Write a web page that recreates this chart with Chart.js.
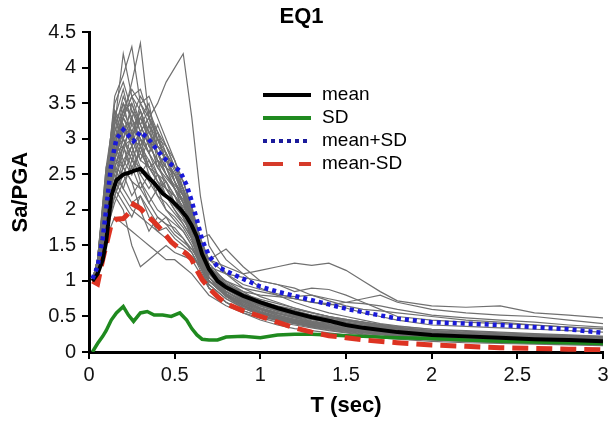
<!DOCTYPE html>
<html>
<head>
<meta charset="utf-8">
<script src="https://cdn.jsdelivr.net/npm/chart.js@4/dist/chart.umd.min.js"></script>
<style>
  html, body { margin: 0; padding: 0; background: #fff; }
  #wrap { width: 613px; height: 427px; }
</style>
</head>
<body>
<div id="wrap"><canvas id="eq1"></canvas></div>
<script>
// periods (sec) for the individual records
const periods = [0.02, 0.05, 0.1, 0.15, 0.2, 0.25, 0.3, 0.35, 0.4, 0.45, 0.5, 0.55, 0.6, 0.65, 0.7,
  0.8, 0.9, 1.0, 1.1, 1.2, 1.3, 1.4, 1.5, 1.6, 1.7, 1.8, 2.0, 2.2, 2.4, 2.6, 2.8, 3.0];

// individual normalised spectra (Sa/PGA)
const records = [
  [1.0,1.2,2.1,3.2,4.2,3.6,3.4,3.0,2.8,2.6,2.3,2.0,1.6,1.2,0.95,0.75,0.62,0.55,0.5,0.45,0.4,0.36,0.32,0.3,0.27,0.25,0.22,0.2,0.18,0.17,0.16,0.15],
  [1.0,1.3,2.4,3.6,3.9,4.3,3.5,3.2,2.9,2.7,2.5,2.2,1.8,1.3,1.0,0.8,0.7,0.6,0.52,0.46,0.42,0.38,0.34,0.31,0.28,0.26,0.23,0.21,0.19,0.18,0.17,0.16],
  [1.0,1.1,1.9,2.7,3.3,3.8,4.35,3.3,3.1,2.9,2.6,2.3,1.9,1.4,1.1,0.85,0.72,0.62,0.55,0.5,0.46,0.42,0.38,0.35,0.32,0.3,0.27,0.24,0.22,0.2,0.19,0.18],
  [1.0,1.1,1.6,2.2,2.6,2.9,3.1,3.3,3.5,3.8,4.0,4.2,3.3,2.2,1.5,1.1,0.9,0.78,0.7,0.62,0.55,0.5,0.45,0.4,0.37,0.34,0.3,0.27,0.25,0.23,0.22,0.2],
  [1.0,1.2,2.0,2.8,3.1,3.0,2.9,3.2,3.0,2.7,2.5,2.3,2.0,1.6,1.3,1.2,1.1,1.15,1.2,1.25,1.22,1.25,1.15,1.0,0.85,0.72,0.65,0.63,0.65,0.55,0.52,0.48],
  [1.0,1.2,2.3,3.0,3.5,3.3,3.6,3.4,3.1,2.8,2.4,2.1,1.7,1.45,1.3,1.45,1.2,1.0,0.95,0.85,0.9,0.88,0.8,0.7,0.6,0.5,0.45,0.42,0.4,0.38,0.35,0.33],
  [1.0,1.1,1.6,1.9,1.8,1.7,1.6,1.5,1.4,1.3,1.3,1.2,1.1,0.95,0.8,0.65,0.55,0.48,0.42,0.38,0.34,0.3,0.27,0.24,0.22,0.2,0.17,0.15,0.13,0.12,0.11,0.1],
  [1.0,1.2,1.8,2.2,2.0,1.5,1.2,1.3,1.4,1.5,1.4,1.35,1.3,1.1,0.9,0.7,0.55,0.45,0.38,0.33,0.3,0.27,0.24,0.22,0.2,0.18,0.15,0.13,0.12,0.11,0.1,0.09],
  [1.0,1.3,2.5,3.3,3.7,3.2,3.3,3.0,2.6,2.4,2.2,2.0,1.7,1.3,1.0,0.8,0.68,0.58,0.5,0.44,0.4,0.36,0.32,0.29,0.27,0.25,0.21,0.19,0.17,0.16,0.15,0.14],
  [1.0,1.2,2.2,2.6,2.5,2.8,2.4,2.2,2.0,1.9,1.8,1.7,1.5,1.2,0.95,0.75,0.62,0.52,0.45,0.4,0.35,0.31,0.28,0.25,0.22,0.2,0.17,0.15,0.14,0.13,0.12,0.11],
  [1.0,1.1,2.0,2.9,3.4,3.7,3.5,3.6,3.3,3.0,2.7,2.3,1.8,1.4,1.1,0.9,0.8,0.72,0.65,0.6,0.55,0.5,0.46,0.42,0.38,0.35,0.3,0.28,0.26,0.24,0.22,0.2],
  [1.0,1.2,2.3,2.8,3.0,2.7,2.6,2.5,2.3,2.2,2.0,1.8,1.6,1.3,1.1,1.0,0.9,0.85,0.8,0.78,0.8,0.75,0.7,0.68,0.65,0.6,0.52,0.48,0.45,0.42,0.38,0.35],
  [1.0,1.3,2.6,3.4,3.0,3.3,2.9,2.7,2.5,2.3,2.1,1.9,1.6,1.25,1.0,0.82,0.7,0.6,0.52,0.45,0.4,0.36,0.33,0.3,0.28,0.26,0.23,0.21,0.2,0.19,0.18,0.17],
  [1.0,1.1,1.7,2.4,2.9,3.2,3.0,2.8,2.6,2.45,2.3,2.1,1.9,1.5,1.2,1.0,0.85,0.7,0.6,0.55,0.5,0.45,0.4,0.36,0.33,0.3,0.26,0.24,0.22,0.21,0.2,0.19],
  [1.0,1.2,2.0,2.5,2.3,2.1,2.2,1.9,1.7,1.6,1.5,1.45,1.35,1.2,1.0,0.8,0.65,0.55,0.48,0.42,0.37,0.33,0.3,0.27,0.25,0.23,0.2,0.18,0.16,0.15,0.14,0.13],
  [1.0,1.2,2.4,3.1,3.4,3.5,3.2,2.9,2.7,2.5,2.3,2.0,1.6,1.2,0.9,0.7,0.58,0.5,0.44,0.4,0.36,0.33,0.3,0.28,0.26,0.24,0.22,0.2,0.19,0.18,0.17,0.16],
  [1.0,1.1,1.9,2.6,3.0,2.8,3.1,2.8,2.5,2.4,2.2,2.0,1.7,1.4,1.2,1.1,1.05,1.0,0.95,0.9,0.8,0.72,0.65,0.6,0.58,0.55,0.5,0.45,0.42,0.38,0.35,0.32],
  [1.0,1.2,2.1,2.9,3.3,3.6,3.7,3.3,2.8,2.5,2.3,2.1,1.8,1.4,1.05,0.8,0.65,0.55,0.48,0.43,0.39,0.35,0.32,0.3,0.28,0.26,0.23,0.21,0.2,0.19,0.18,0.17],
  [1.0,1.3,2.4,2.7,2.6,2.4,2.3,2.1,1.9,1.8,1.75,1.6,1.4,1.15,0.9,0.7,0.58,0.5,0.45,0.42,0.4,0.42,0.45,0.42,0.38,0.34,0.28,0.24,0.22,0.2,0.18,0.17],
  [1.0,1.2,2.2,3.0,3.3,3.1,3.4,3.1,2.9,2.7,2.5,2.3,2.0,1.6,1.3,1.1,0.95,0.88,0.82,0.75,0.7,0.66,0.7,0.75,0.8,0.7,0.6,0.55,0.52,0.5,0.45,0.4],
  [1.0,1.1,1.8,2.3,2.7,2.9,2.6,2.4,2.2,2.0,1.85,1.7,1.5,1.25,1.0,0.78,0.62,0.52,0.46,0.41,0.37,0.34,0.31,0.28,0.26,0.24,0.2,0.18,0.17,0.16,0.15,0.14],
  [1.0,1.2,2.5,3.5,3.8,3.4,3.1,3.3,3.0,2.7,2.5,2.25,1.9,1.5,1.15,0.9,0.78,0.7,0.64,0.58,0.52,0.48,0.44,0.4,0.36,0.33,0.29,0.26,0.24,0.23,0.22,0.21],
  [1.0,1.2,2.1,2.8,2.9,2.6,2.8,2.6,2.4,2.2,2.05,1.9,1.7,1.35,1.1,0.95,0.85,0.8,0.78,0.75,0.7,0.68,0.62,0.55,0.5,0.45,0.38,0.36,0.34,0.32,0.3,0.28],
  [1.0,1.1,2.0,2.4,2.2,2.0,1.9,1.8,1.7,1.75,1.6,1.5,1.4,1.2,1.0,0.85,0.72,0.62,0.55,0.48,0.42,0.37,0.33,0.3,0.27,0.25,0.21,0.19,0.17,0.16,0.15,0.14],
  [1.0,1.2,2.0,2.6,2.9,3.0,2.7,2.6,2.5,2.3,2.1,1.95,1.8,1.6,1.65,1.3,1.1,0.9,0.8,0.7,0.62,0.55,0.5,0.45,0.4,0.37,0.32,0.29,0.27,0.25,0.23,0.21],
  [1.0,1.2,2.3,2.9,2.6,3.1,2.7,3.0,2.6,2.8,2.4,2.2,1.8,1.4,1.1,0.85,0.7,0.6,0.52,0.46,0.41,0.37,0.33,0.3,0.27,0.25,0.22,0.2,0.18,0.17,0.16,0.15],
  [1.0,1.1,2.1,2.5,2.9,2.5,2.9,2.6,2.7,2.3,2.2,1.9,1.6,1.3,1.05,0.82,0.66,0.56,0.48,0.43,0.38,0.34,0.31,0.28,0.26,0.24,0.21,0.19,0.17,0.16,0.15,0.14],
  [1.0,1.3,2.5,3.2,3.5,3.0,3.4,2.9,3.1,2.6,2.5,2.2,1.9,1.5,1.2,0.95,0.8,0.68,0.6,0.54,0.48,0.44,0.4,0.36,0.33,0.3,0.26,0.24,0.22,0.2,0.19,0.18],
  [1.0,1.2,2.0,2.7,3.2,2.9,3.3,3.5,2.9,2.8,2.6,2.4,2.0,1.55,1.2,0.9,0.75,0.65,0.58,0.52,0.47,0.43,0.39,0.35,0.32,0.29,0.25,0.23,0.21,0.2,0.19,0.18],
  [1.0,1.1,1.8,2.2,2.5,2.2,2.4,2.1,2.3,2.0,1.9,1.75,1.55,1.3,1.05,0.8,0.65,0.55,0.47,0.41,0.36,0.32,0.29,0.26,0.24,0.22,0.19,0.17,0.15,0.14,0.13,0.12],
  [1.0,1.2,2.2,3.3,3.0,3.5,3.1,2.8,3.0,2.7,2.4,2.1,1.75,1.35,1.05,0.82,0.68,0.6,0.54,0.5,0.46,0.44,0.41,0.38,0.35,0.32,0.28,0.26,0.24,0.22,0.21,0.2],
  [1.0,1.2,2.4,2.8,3.2,2.9,2.5,2.7,2.4,2.2,2.1,2.0,1.7,1.35,1.05,0.8,0.64,0.54,0.47,0.42,0.38,0.34,0.31,0.28,0.26,0.24,0.2,0.18,0.17,0.16,0.15,0.14],
  [1.0,1.1,1.9,2.4,2.8,3.3,2.9,3.1,2.8,2.6,2.3,2.15,1.85,1.45,1.15,0.9,0.76,0.66,0.6,0.55,0.5,0.46,0.42,0.38,0.35,0.32,0.28,0.25,0.23,0.22,0.21,0.2],
  [1.0,1.3,2.6,3.0,2.7,2.5,2.9,2.5,2.3,2.4,2.1,1.9,1.65,1.3,1.0,0.78,0.64,0.55,0.48,0.43,0.39,0.35,0.32,0.29,0.27,0.25,0.21,0.19,0.18,0.17,0.16,0.15],
  [1.0,1.2,2.0,2.9,3.4,3.1,2.8,3.2,2.7,2.5,2.35,2.2,1.95,1.6,1.25,0.98,0.82,0.72,0.64,0.58,0.52,0.48,0.44,0.4,0.37,0.34,0.3,0.27,0.25,0.24,0.23,0.22],
  [1.0,1.1,1.7,2.1,2.4,2.6,2.3,2.5,2.2,2.1,1.95,1.8,1.6,1.3,1.05,0.82,0.68,0.57,0.5,0.44,0.39,0.35,0.31,0.28,0.25,0.23,0.19,0.17,0.16,0.15,0.14,0.13],
  [1.0,1.2,2.3,3.1,3.6,3.3,3.0,2.8,3.2,2.9,2.6,2.4,2.05,1.6,1.2,0.92,0.78,0.68,0.6,0.54,0.49,0.45,0.41,0.37,0.34,0.31,0.27,0.24,0.22,0.21,0.2,0.19],
  [1.0,1.2,2.1,2.6,2.3,2.7,3.0,2.6,2.4,2.3,2.2,2.05,1.8,1.45,1.15,0.9,0.74,0.62,0.54,0.48,0.43,0.39,0.35,0.32,0.29,0.27,0.23,0.21,0.19,0.18,0.17,0.16],
  [1.0,1.3,2.4,3.4,3.2,3.0,3.3,3.1,2.8,2.5,2.3,2.1,1.85,1.5,1.2,0.95,0.8,0.7,0.62,0.56,0.5,0.46,0.42,0.38,0.35,0.32,0.28,0.25,0.23,0.22,0.21,0.2],
  [1.0,1.1,1.9,2.3,2.1,1.9,2.2,2.0,1.8,1.9,1.7,1.6,1.45,1.25,1.0,0.8,0.66,0.56,0.49,0.43,0.38,0.34,0.31,0.28,0.25,0.23,0.19,0.17,0.15,0.14,0.13,0.12],
  [1.0,1.2,2.2,2.7,3.1,3.4,3.2,3.4,3.0,2.9,2.7,2.4,2.0,1.5,1.15,0.88,0.74,0.64,0.57,0.51,0.46,0.42,0.38,0.34,0.31,0.28,0.24,0.22,0.2,0.19,0.18,0.17],
  [1.0,1.2,2.0,2.6,3.0,2.7,2.5,2.3,2.5,2.2,2.0,1.85,1.7,1.4,1.12,0.9,0.76,0.66,0.58,0.52,0.47,0.42,0.38,0.35,0.32,0.29,0.25,0.23,0.21,0.2,0.19,0.18],
  [1.0,1.1,2.1,2.8,3.3,3.0,3.5,3.3,3.0,2.8,2.55,2.3,1.95,1.5,1.15,0.9,0.76,0.66,0.59,0.53,0.48,0.44,0.4,0.36,0.33,0.3,0.26,0.24,0.22,0.21,0.2,0.19],
  [1.0,1.2,1.9,2.3,2.6,2.4,2.0,1.7,1.9,1.8,1.65,1.55,1.45,1.25,1.05,0.85,0.72,0.62,0.55,0.49,0.44,0.4,0.36,0.32,0.29,0.27,0.23,0.2,0.18,0.17,0.16,0.15],
  [1.0,1.3,2.3,3.0,3.3,3.6,3.2,2.9,2.7,2.6,2.4,2.2,1.9,1.5,1.2,0.96,0.82,0.74,0.68,0.62,0.56,0.5,0.46,0.42,0.39,0.36,0.32,0.3,0.28,0.26,0.24,0.22]
];

// periods for the statistics curves
const statT = [0.02, 0.05, 0.08, 0.1, 0.13, 0.16, 0.2, 0.23, 0.26, 0.3, 0.34, 0.38, 0.43, 0.48, 0.53, 0.57,
  0.6, 0.63, 0.66, 0.7, 0.75, 0.8, 0.9, 1.0, 1.1, 1.2, 1.3, 1.4, 1.5, 1.6, 1.8, 2.0, 2.2, 2.4, 2.6, 2.8, 3.0];
const meanSa = [1.0,1.1,1.3,1.55,2.2,2.42,2.5,2.52,2.55,2.58,2.47,2.38,2.23,2.14,2.02,1.9,
  1.78,1.62,1.38,1.17,1.0,0.91,0.79,0.7,0.62,0.55,0.49,0.44,0.38,0.34,0.28,0.24,0.22,0.2,0.18,0.17,0.15];
const sdSa = [0.0,0.12,0.22,0.3,0.45,0.55,0.64,0.52,0.43,0.55,0.57,0.52,0.52,0.5,0.55,0.45,
  0.33,0.24,0.18,0.17,0.17,0.21,0.22,0.2,0.24,0.25,0.25,0.24,0.23,0.22,0.2,0.19,0.17,0.15,0.14,0.13,0.12];
const plusSa = [1.03,1.2,1.6,2.0,2.65,3.0,3.13,3.05,2.97,3.1,3.02,2.9,2.75,2.64,2.55,2.35,
  2.12,1.86,1.58,1.36,1.2,1.14,1.03,0.92,0.85,0.79,0.73,0.67,0.61,0.56,0.47,0.42,0.4,0.38,0.35,0.32,0.27];
const minusSa = [1.0,0.96,1.3,1.5,1.8,1.87,1.88,1.95,2.08,2.02,1.92,1.83,1.7,1.55,1.45,1.38,
  1.3,1.15,1.02,0.9,0.78,0.68,0.58,0.5,0.42,0.34,0.28,0.23,0.2,0.17,0.13,0.1,0.08,0.06,0.05,0.04,0.03];

const xTicks = [0, 0.5, 1, 1.5, 2, 2.5, 3];

const pts = (xs, ys) => xs.map((x, i) => ({ x: x, y: ys[i] }));

const FONT = "'Liberation Sans', Arial, sans-serif";

const legendItems = [
  { label: 'mean', color: '#000000', width: 4, dash: [] },
  { label: 'SD', color: '#1f8a1f', width: 4, dash: [] },
  { label: 'mean+SD', color: '#1c1c9c', width: 4, dash: [4, 4] },
  { label: 'mean-SD', color: '#d63a2a', width: 4, dash: [20, 16] }
];

// legend drawn inside the plot, like the original
const insideLegend = {
  id: 'insideLegend',
  afterDraw(chart) {
    const ctx = chart.ctx;
    ctx.save();
    ctx.font = '19px ' + FONT;
    ctx.textBaseline = 'middle';
    legendItems.forEach((it, i) => {
      const y = 95 + i * 23;
      ctx.beginPath();
      ctx.setLineDash(it.dash);
      ctx.strokeStyle = it.color;
      ctx.lineWidth = it.width;
      ctx.moveTo(263, y);
      ctx.lineTo(311, y);
      ctx.stroke();
      ctx.setLineDash([]);
      ctx.fillStyle = '#000';
      ctx.fillText(it.label, 322, y);
    });
    ctx.restore();
  }
};

const datasets = records.map((r) => ({
  data: pts(periods, r),
  borderColor: 'rgb(112,112,112)',
  borderWidth: 1.2,
  pointRadius: 0,
  order: 10
}));

datasets.push(
  { label: 'SD', data: pts(statT, sdSa), borderColor: '#1f8a1f', borderWidth: 3.5, pointRadius: 0, order: 4 },
  { label: 'mean-SD', data: pts(statT, minusSa), borderColor: '#dd3322', borderWidth: 5, borderDash: [16, 8], pointRadius: 0, order: 3 },
  { label: 'mean', data: pts(statT, meanSa), borderColor: '#000000', borderWidth: 4, pointRadius: 0, order: 2 },
  { label: 'mean+SD', data: pts(statT, plusSa), borderColor: '#1a1ad8', borderWidth: 4.5, borderDash: [4, 4], pointRadius: 0, order: 1 }
);

new Chart(document.getElementById('eq1'), {
  type: 'line',
  data: { datasets: datasets },
  plugins: [insideLegend],
  options: {
    responsive: true,
    maintainAspectRatio: false,
    animation: false,
    layout: { padding: { left: 0, right: 10, top: 0, bottom: 0 } },
    plugins: {
      legend: { display: false },
      tooltip: { enabled: false },
      title: {
        display: true,
        text: 'EQ1',
        color: '#000',
        font: { family: FONT, size: 22, weight: 'bold' },
        padding: { top: 4, bottom: 2 }
      }
    },
    scales: {
      x: {
        type: 'linear',
        min: 0,
        max: 3,
        afterBuildTicks: (s) => { s.ticks = xTicks.map(v => ({ value: v })); },
        afterFit: (s) => { s.height = 75; },
        border: { color: '#000', width: 3 },
        grid: { drawOnChartArea: false, drawTicks: true, tickLength: 7, color: '#000', lineWidth: 2 },
        ticks: { color: '#111', padding: 4, font: { family: FONT, size: 20 }, callback: (v) => String(v) },
        title: {
          display: true,
          text: 'T (sec)',
          color: '#000',
          font: { family: FONT, size: 22, weight: 'bold' },
          padding: { top: 0, bottom: 8 }
        }
      },
      y: {
        min: 0,
        max: 4.5,
        ticks: { stepSize: 0.5, color: '#111', padding: 6, font: { family: FONT, size: 20 }, callback: (v) => String(v) },
        afterFit: (s) => { s.width = 89; },
        border: { color: '#000', width: 3 },
        grid: { drawOnChartArea: false, drawTicks: true, tickLength: 7, color: '#000', lineWidth: 2 },
        title: {
          display: true,
          text: 'Sa/PGA',
          color: '#000',
          font: { family: FONT, size: 22, weight: 'bold' },
          padding: { top: 8, bottom: 0 }
        }
      }
    }
  }
});
</script>
</body>
</html>
